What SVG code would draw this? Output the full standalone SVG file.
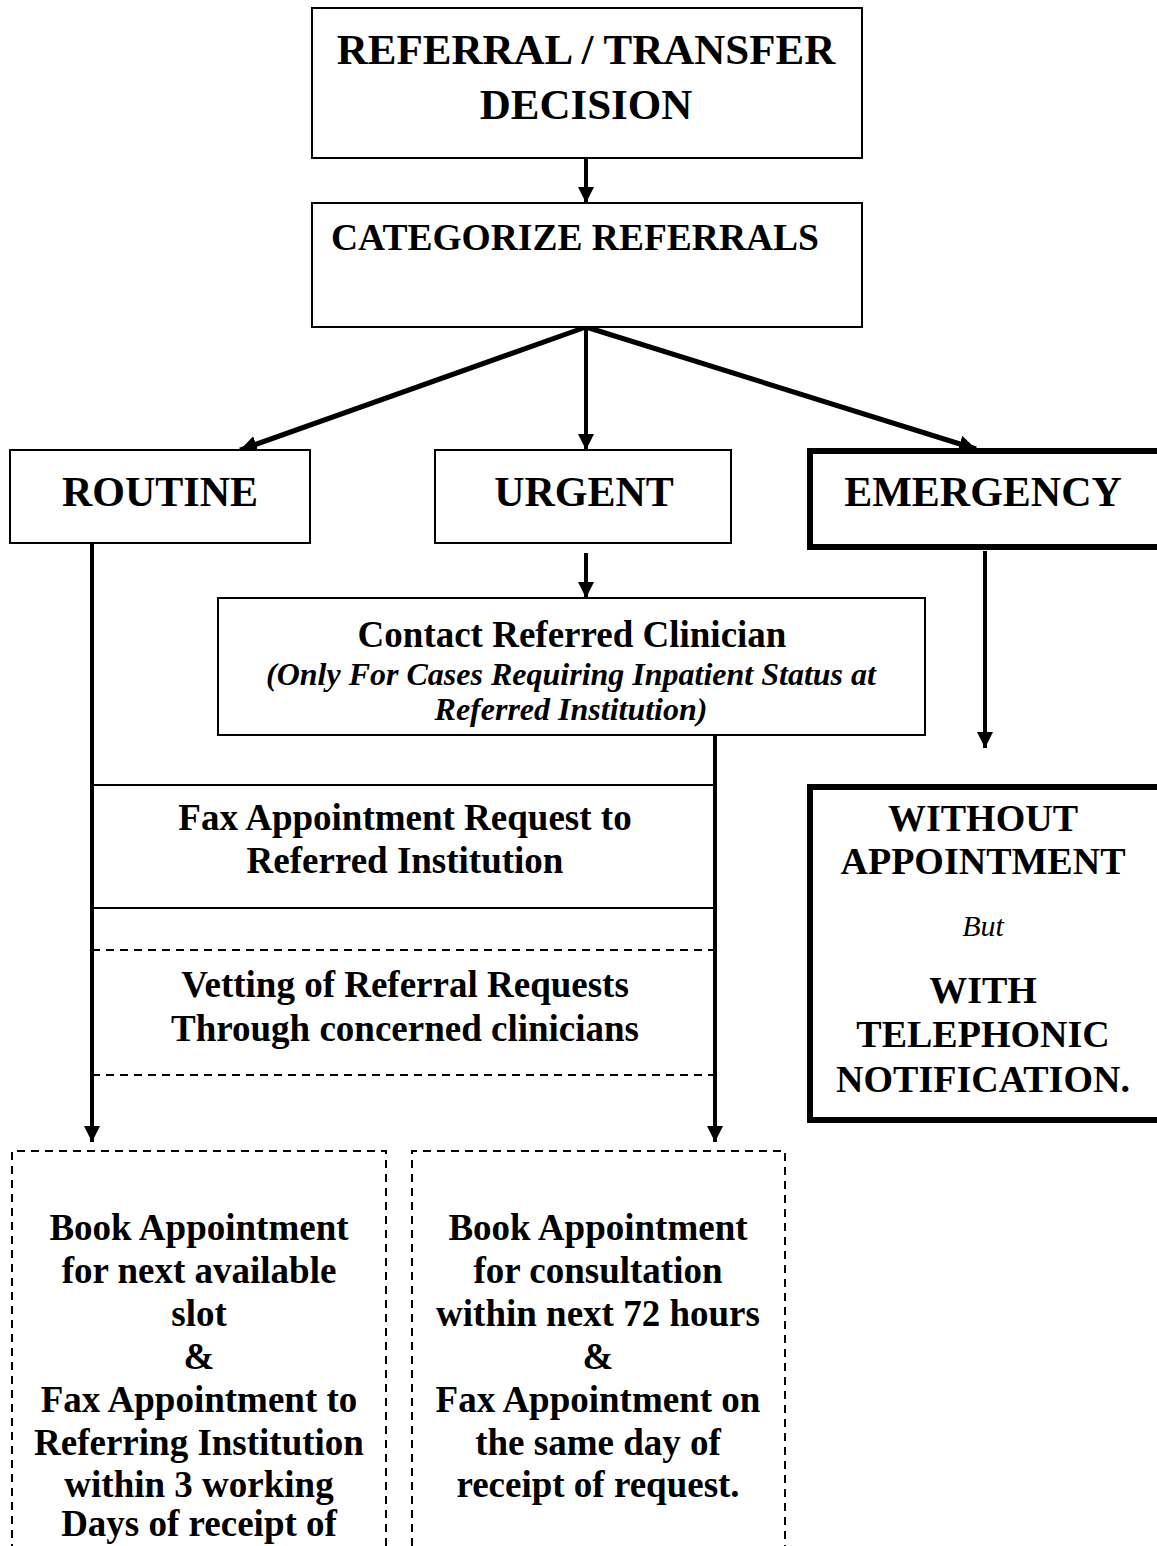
<svg xmlns="http://www.w3.org/2000/svg" width="1157" height="1546" viewBox="0 0 1157 1546">
  <style>
    .box { fill: #fff; stroke: #000; stroke-width: 2; }
    .thick { fill: #fff; stroke: #000; stroke-width: 6; }
    .dash { fill: none; stroke: #000; stroke-width: 2; stroke-dasharray: 8 6; }
    .t { font-family: "Liberation Serif", "Times New Roman", serif; font-weight: bold; fill: #000; text-anchor: middle; }
    .ti { font-family: "Liberation Serif", "Times New Roman", serif; font-style: italic; font-weight: bold; fill: #000; text-anchor: middle; }
    .it { font-family: "Liberation Serif", "Times New Roman", serif; font-style: italic; fill: #000; text-anchor: middle; }
    .line { stroke: #000; fill: none; }
  </style>
  <defs>
    <marker id="ah" viewBox="0 0 10 10" refX="10" refY="5" markerWidth="4" markerHeight="4" markerUnits="strokeWidth" orient="auto">
      <path d="M0,0 L10,5 L0,10 z" fill="#000"/>
    </marker>
    <marker id="ah2" viewBox="0 0 10 10" refX="10" refY="5" markerWidth="3.4" markerHeight="3.4" markerUnits="strokeWidth" orient="auto">
      <path d="M0,0 L10,5 L0,10 z" fill="#000"/>
    </marker>
  </defs>

  <!-- connectors -->
  <g id="connectors">
    <line class="line" x1="586" y1="158" x2="586" y2="203" stroke-width="4" marker-end="url(#ah)"/>
    <line class="line" x1="586" y1="327" x2="240" y2="450" stroke-width="5" marker-end="url(#ah2)"/>
    <line class="line" x1="586" y1="327" x2="586" y2="450" stroke-width="4" marker-end="url(#ah)"/>
    <line class="line" x1="586" y1="327" x2="976" y2="449" stroke-width="5" marker-end="url(#ah2)"/>
    <line class="line" x1="586" y1="553" x2="586" y2="598" stroke-width="4" marker-end="url(#ah)"/>
    <line class="line" x1="985" y1="551" x2="985" y2="748" stroke-width="4" marker-end="url(#ah)"/>
    <line class="line" x1="92" y1="543" x2="92" y2="1142" stroke-width="4" marker-end="url(#ah)"/>
    <line class="line" x1="715" y1="735" x2="715" y2="1142" stroke-width="4" marker-end="url(#ah)"/>
  </g>

  <!-- top decision -->
  <g id="decision">
    <rect class="box" x="312" y="8" width="550" height="150"/>
    <text class="t" x="586" y="64" font-size="43">REFERRAL / TRANSFER</text>
    <text class="t" x="586" y="119" font-size="43">DECISION</text>
  </g>

  <g id="categorize">
    <rect class="box" x="312" y="203" width="550" height="124"/>
    <text class="t" x="575" y="250" font-size="37.5">CATEGORIZE REFERRALS</text>
  </g>

  <g id="routine">
    <rect class="box" x="10" y="450" width="300" height="93"/>
    <text class="t" x="160" y="506" font-size="42">ROUTINE</text>
  </g>

  <g id="urgent">
    <rect class="box" x="435" y="450" width="296" height="93"/>
    <text class="t" x="584" y="506" font-size="42">URGENT</text>
  </g>

  <g id="emergency">
    <rect class="thick" x="810" y="451" width="352" height="96"/>
    <text class="t" x="983" y="506" font-size="42">EMERGENCY</text>
  </g>

  <g id="contact">
    <rect class="box" x="218" y="598" width="707" height="137"/>
    <text class="t" x="572" y="647" font-size="37">Contact Referred Clinician</text>
    <text class="ti" x="571" y="685" font-size="32">(Only For Cases Requiring Inpatient Status at</text>
    <text class="ti" x="571" y="720" font-size="32">Referred Institution)</text>
  </g>

  <g id="fax-request">
    <line class="line" x1="92" y1="785" x2="715" y2="785" stroke-width="2"/>
    <line class="line" x1="92" y1="908" x2="715" y2="908" stroke-width="2"/>
    <text class="t" x="405" y="830" font-size="37">Fax Appointment Request to</text>
    <text class="t" x="405" y="873" font-size="37">Referred Institution</text>
  </g>

  <g id="vetting">
    <line class="dash" x1="92" y1="950" x2="715" y2="950"/>
    <line class="dash" x1="92" y1="1075" x2="715" y2="1075"/>
    <text class="t" x="405" y="997" font-size="37">Vetting of Referral Requests</text>
    <text class="t" x="405" y="1041" font-size="37">Through concerned clinicians</text>
  </g>

  <g id="no-appointment">
    <rect class="thick" x="810" y="787" width="352" height="333"/>
    <text class="t" x="983" y="831" font-size="38">WITHOUT</text>
    <text class="t" x="983" y="874" font-size="38">APPOINTMENT</text>
    <text class="it" x="983" y="936" font-size="30">But</text>
    <text class="t" x="983" y="1003" font-size="38">WITH</text>
    <text class="t" x="983" y="1047" font-size="38">TELEPHONIC</text>
    <text class="t" x="983" y="1092" font-size="38">NOTIFICATION.</text>
  </g>

  <g id="routine-booking">
    <path class="dash" d="M386,1560 V1151 H12 V1560"/>
    <text class="t" x="199" y="1240" font-size="37">Book Appointment</text>
    <text class="t" x="199" y="1283" font-size="37">for next available</text>
    <text class="t" x="199" y="1326" font-size="37">slot</text>
    <text class="t" x="199" y="1369" font-size="37">&amp;</text>
    <text class="t" x="199" y="1412" font-size="37">Fax Appointment to</text>
    <text class="t" x="199" y="1455" font-size="37">Referring Institution</text>
    <text class="t" x="199" y="1497" font-size="37">within 3 working</text>
    <text class="t" x="199" y="1536" font-size="37">Days of receipt of</text>
  </g>

  <g id="urgent-booking">
    <path class="dash" d="M412,1560 V1151 H785 V1560"/>
    <text class="t" x="598" y="1240" font-size="37">Book Appointment</text>
    <text class="t" x="598" y="1283" font-size="37">for consultation</text>
    <text class="t" x="598" y="1326" font-size="37">within next 72 hours</text>
    <text class="t" x="598" y="1369" font-size="37">&amp;</text>
    <text class="t" x="598" y="1412" font-size="37">Fax Appointment on</text>
    <text class="t" x="598" y="1455" font-size="37">the same day of</text>
    <text class="t" x="598" y="1497" font-size="37">receipt of request.</text>
  </g>
</svg>
